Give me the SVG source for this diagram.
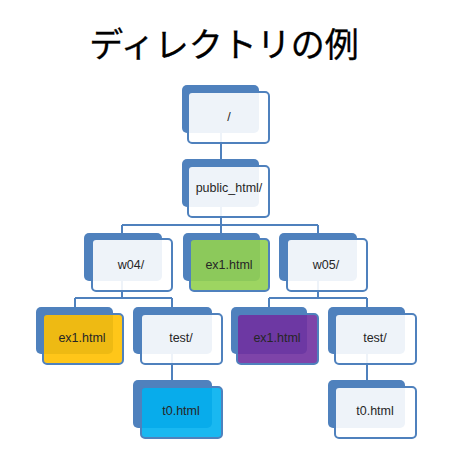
<svg xmlns="http://www.w3.org/2000/svg" width="466" height="467" viewBox="0 0 466 467">
<style>
.back{fill:#4F81BD}
.front{stroke:#4F81BD;stroke-width:2;fill-opacity:0.9}
.w{fill:#FFFFFF}
.g{fill:#92D050}
.y{fill:#FFC000}
.p{fill:#7030A0}
.c{fill:#00B0F0}
.lbl{font-family:"Liberation Sans",Arial,sans-serif;font-size:12.5px;fill:#262626;text-anchor:middle;dominant-baseline:central}
.conn{stroke:#4F81BD;stroke-width:2;fill:none}
</style>
<rect width="466" height="467" fill="#FFFFFF"/>
<text x="224" y="57" font-family="'Noto Sans CJK JP',sans-serif" font-size="34" fill="#000000" stroke="#000000" stroke-width="0.3" text-anchor="middle">ディレクトリの例</text>
<g id="connectors">
<path class="conn" d="M221,133 V166"/>
<path class="conn" d="M221,205 V225 M122,225 H318 M122,225 V233 M221,225 V233 M318,225 V233"/>
<path class="conn" d="M122,281 V298 M75,298 H172 M75,298 V307 M172,298 V307"/>
<path class="conn" d="M318,281 V298 M269,298 H367 M269,298 V307 M367,298 V307"/>
<path class="conn" d="M172,354 V380"/>
<path class="conn" d="M367,354 V380"/>
</g>
<g id="root">
<rect class="back" x="182" y="85" width="77" height="48" rx="5"/>
<rect class="front w" x="188" y="92" width="81" height="51" rx="4"/>
<text class="lbl" x="229" y="117">/</text>
</g>
<g id="public_html">
<rect class="back" x="182" y="159" width="77" height="48" rx="5"/>
<rect class="front w" x="188" y="166" width="81" height="51" rx="4"/>
<text class="lbl" x="229" y="188">public_html/</text>
</g>
<g id="w04">
<rect class="back" x="84" y="233" width="78" height="48" rx="5"/>
<rect class="front w" x="92" y="239" width="80" height="52" rx="4"/>
<text class="lbl" x="131" y="265">w04/</text>
</g>
<g id="ex1_public">
<rect class="back" x="183" y="233" width="77" height="48" rx="5"/>
<rect class="front g" x="190" y="239" width="79" height="52" rx="4"/>
<text class="lbl" x="229" y="265">ex1.html</text>
</g>
<g id="w05">
<rect class="back" x="279" y="233" width="78" height="48" rx="5"/>
<rect class="front w" x="287" y="239" width="80" height="52" rx="4"/>
<text class="lbl" x="326" y="265">w05/</text>
</g>
<g id="ex1_w04">
<rect class="back" x="36" y="307" width="77" height="47" rx="5"/>
<rect class="front y" x="43" y="314" width="80" height="50" rx="4"/>
<text class="lbl" x="82" y="338">ex1.html</text>
</g>
<g id="test_w04">
<rect class="back" x="133" y="307" width="79" height="47" rx="5"/>
<rect class="front w" x="141" y="314" width="81" height="50" rx="4"/>
<text class="lbl" x="181" y="338">test/</text>
</g>
<g id="t0_w04">
<rect class="back" x="133" y="380" width="79" height="48" rx="5"/>
<rect class="front c" x="141" y="387" width="81" height="51" rx="4"/>
<text class="lbl" x="181" y="411">t0.html</text>
</g>
<g id="ex1_w05">
<rect class="back" x="231" y="307" width="76" height="47" rx="5"/>
<rect class="front p" x="237" y="314" width="81" height="50" rx="4"/>
<text class="lbl" x="277" y="338">ex1.html</text>
</g>
<g id="test_w05">
<rect class="back" x="328" y="307" width="77" height="47" rx="5"/>
<rect class="front w" x="335" y="314" width="81" height="50" rx="4"/>
<text class="lbl" x="375" y="338">test/</text>
</g>
<g id="t0_w05">
<rect class="back" x="328" y="380" width="77" height="48" rx="5"/>
<rect class="front w" x="335" y="387" width="81" height="51" rx="4"/>
<text class="lbl" x="375" y="411">t0.html</text>
</g>
</svg>
